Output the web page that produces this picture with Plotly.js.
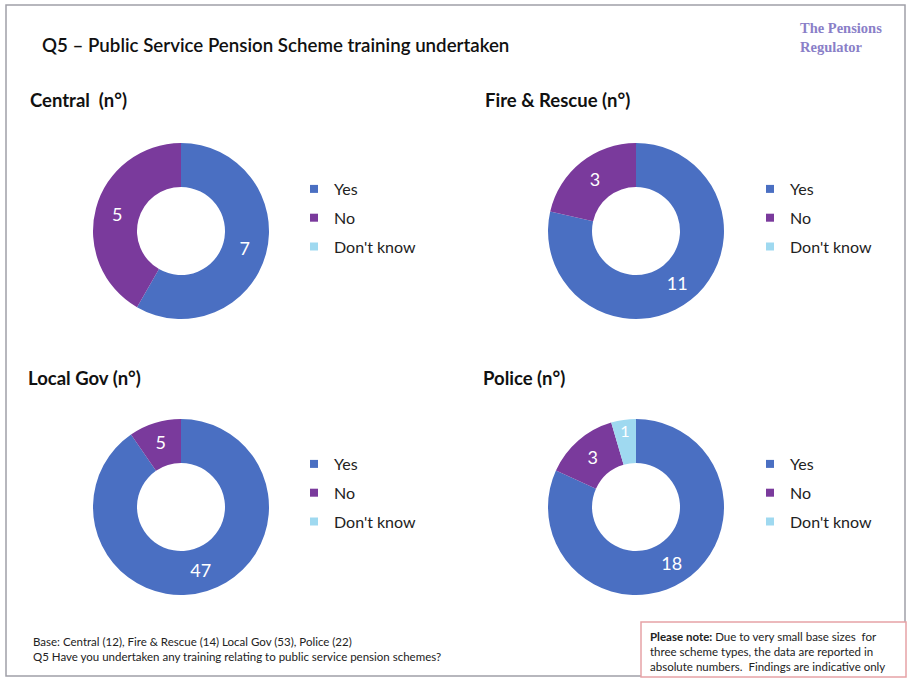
<!DOCTYPE html>
<html>
<head>
<meta charset="utf-8">
<script src="https://cdn.plot.ly/plotly-3.0.1.min.js"></script>
<style>html,body{margin:0;padding:0;background:#fff;}#chart{width:911px;height:681px;}</style>
</head>
<body>
<div id="chart"></div>
<script>
// ---- data ----
const labels = ["Yes", "No", "Don't know"];
const chartTitles = ["Central  (n°)", "Fire & Rescue (n°)", "Local Gov (n°)", "Police (n°)"];
const centralValues = [7, 5, 0];
const fireRescueValues = [11, 3, 0];
const localGovValues = [47, 5, 0];
const policeValues = [18, 3, 1];
const mainTitle = "Q5 – Public Service Pension Scheme training undertaken";
const logoLines = ["The Pensions", "Regulator"];
const baseNote = "Base: Central (12), Fire & Rescue (14) Local Gov (53), Police (22)";
const questionNote = "Q5 Have you undertaken any training relating to public service pension schemes?";
const noteLines = ["<b>Please note:</b> Due to very small base sizes  for",
                   "three scheme types, the data are reported in",
                   "absolute numbers.  Findings are indicative only"];

// ---- styling ----
const W = 911, H = 681;
const FONT = "Lato, 'Open Sans', sans-serif";
const colors = ["#4a6fc2", "#7a3a9c", "#9fd9f0"];
const px = x => x / W;
const py = y => (H - y) / H;

const centers = [[181, 231], [636, 231], [181, 507], [636, 507]];
const R = 88;
const seriesList = [centralValues, fireRescueValues, localGovValues, policeValues];
const legendNames = ["legend", "legend2", "legend3", "legend4"];

const traces = [];
seriesList.forEach((vals, i) => {
  const [cx, cy] = centers[i];
  traces.push({
    type: "pie",
    labels: labels,
    values: vals,
    text: vals.map(v => v > 0 ? String(v) : ""),
    textinfo: "text",
    textposition: "inside",
    insidetextorientation: "horizontal",
    insidetextfont: {family: FONT, size: 18, color: "#ffffff"},
    hole: 0.5,
    sort: false,
    direction: "clockwise",
    rotation: 0,
    marker: {colors: colors, line: {width: 0}},
    domain: {x: [px(cx - R), px(cx + R)], y: [py(cy + R), py(cy - R)]},
    hoverinfo: "label+value",
    showlegend: false
  });
  // legend entries for this donut
  labels.forEach((lab, j) => {
    traces.push({
      type: "scatter", mode: "markers", x: [null], y: [null],
      name: lab, legend: legendNames[i], legendgroup: "g" + i + "_" + j,
      marker: {symbol: "square", size: 8, color: colors[j]},
      showlegend: true, hoverinfo: "skip"
    });
  });
});

function legendAt(x, yTop) {
  return {
    x: px(x), y: py(yTop), xanchor: "left", yanchor: "top",
    font: {family: FONT, size: 16, color: "#222"},
    bgcolor: "rgba(0,0,0,0)", borderwidth: 0, traceorder: "grouped",
    tracegroupgap: 5, itemclick: false
  };
}

const titlePos = [[30, 100], [485, 100], [28, 378], [483, 378]];
const annotations = chartTitles.map((t, i) => ({
  text: "<b>" + t + "</b>", xref: "paper", yref: "paper",
  x: px(titlePos[i][0] - 2), y: py(titlePos[i][1]), xanchor: "left", yanchor: "middle",
  showarrow: false, font: {family: FONT, size: 18.5, color: "#111"}
}));

annotations.push(
  {text: mainTitle, xref: "paper", yref: "paper", x: px(40), y: py(45), xanchor: "left", yanchor: "middle",
   showarrow: false, font: {family: FONT, size: 18.7, color: "#111", weight: 600}},
  {text: logoLines.join("<br>"), xref: "paper", yref: "paper", x: px(798), y: py(38), xanchor: "left", yanchor: "middle",
   align: "left", showarrow: false, font: {family: "'Liberation Serif', serif", size: 14.5, color: "#8a7fc8", weight: "bold"}},
  {text: baseNote + "<br>" + questionNote, xref: "paper", yref: "paper", x: px(31), y: py(649), xanchor: "left", yanchor: "middle",
   align: "left", showarrow: false, font: {family: FONT, size: 11.5, color: "#222"}},
  {text: noteLines.join("<br>"),
   xref: "paper", yref: "paper", x: px(648), y: py(651), xanchor: "left", yanchor: "middle",
   align: "left", showarrow: false, font: {family: FONT, size: 11.5, color: "#222"}}
);

const shapes = [
  {type: "rect", xref: "paper", yref: "paper", x0: px(6), x1: px(905), y0: py(676), y1: py(5),
   line: {color: "#a0a0a8", width: 1.5}, fillcolor: "rgba(0,0,0,0)", layer: "below"},
  {type: "rect", xref: "paper", yref: "paper", x0: px(641), x1: px(906), y0: py(677), y1: py(622),
   line: {color: "#e6a2a6", width: 1.5}, fillcolor: "#ffffff", layer: "below"}
];

const layout = {
  width: W, height: H,
  margin: {l: 0, r: 0, t: 0, b: 0},
  paper_bgcolor: "#ffffff",
  plot_bgcolor: "rgba(0,0,0,0)",
  xaxis: {visible: false}, yaxis: {visible: false},
  showlegend: true,
  legend: legendAt(294, 172),
  legend2: legendAt(750, 172),
  legend3: legendAt(294, 447),
  legend4: legendAt(750, 447),
  annotations: annotations,
  shapes: shapes
};

Plotly.newPlot("chart", traces, layout, {displayModeBar: false, staticPlot: true});
</script>
</body>
</html>
